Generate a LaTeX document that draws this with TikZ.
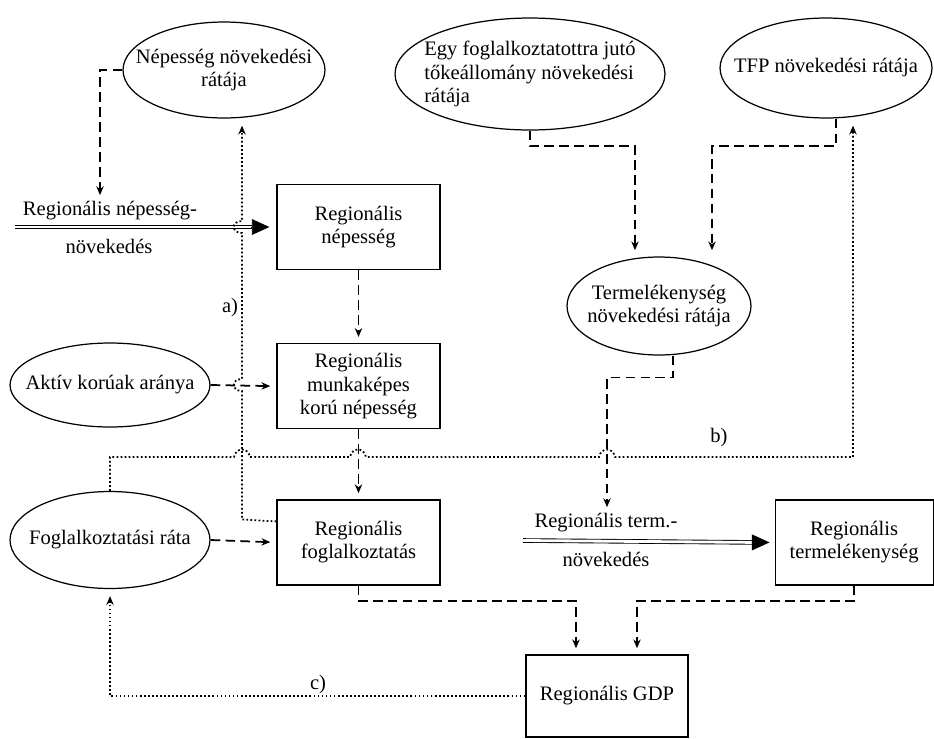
\documentclass[tikz,border=0pt]{standalone}
\usepackage{fontspec}
\setmainfont{Liberation Serif}
\usetikzlibrary{calc, positioning, shapes.geometric, arrows.meta}
\tikzset{
    rate_oval/.style={ellipse, draw=black, line width=0.7pt, inner sep=-1cm, align=center, font=\fontsize{11.7}{13.2}\selectfont},
    region_box/.style={rectangle, draw=black, line width=0.7pt, minimum width=3.26cm, minimum height=1.7cm, align=center, font=\fontsize{11.7}{13.2}\selectfont},
    center_text/.style={inner sep=0pt, align=center, font=\fontsize{11.7}{13.2}\selectfont},
    dashed_arrow/.style={line width=1pt, dash pattern=on 5.5pt off 3pt, -{Stealth[length=5pt,width=4.2pt]}, shorten >=3.5pt},
    dotted_arrow/.style={line width=1pt, dash pattern=on 1pt off 1.3pt, -{Stealth[length=5pt,width=4.2pt]}, shorten >=4pt},
    dbl_line/.style={double, double distance=1.6pt, line width=0.5pt},
    dbl_tip/.style={line width=0.5pt, -{Triangle[length=10pt,width=9pt]}},
}
\begin{document}
\begin{tikzpicture}[x=0.02cm, y=-0.02cm]
    \useasboundingbox (0,0) rectangle (934,738);
    %%%%%%%%%%%%%%%%%
    % RATES (OVALS) %
    %%%%%%%%%%%%%%%%%
    \node (nepnov) [rate_oval, minimum width=4.04cm, minimum height=1.92cm] at (224,70)
        {Népesség növekedési\\rátája};
    \node (toke) [rate_oval, align=left, minimum width=5.4cm, minimum height=2.24cm] at (530,74)
        {Egy foglalkoztatottra jutó\\tőkeállomány növekedési\\rátája};
    \node (tfp) [rate_oval, minimum width=4.24cm, minimum height=2cm] at (826,68)
        {TFP növekedési rátája};
    \node (termnov) [rate_oval, minimum width=3.68cm, minimum height=1.96cm] at (659,306)
        {Termelékenység\\növekedési rátája};
    \node (aktiv) [rate_oval, minimum width=4cm, minimum height=1.68cm] at (110,385)
        {Aktív korúak aránya};
    \node (foglrata) [rate_oval, minimum width=4cm, minimum height=1.94cm] at (110,540)
        {Foglalkoztatási ráta};

    %%%%%%%%%%%%%%%%%%
    % REGIONAL BOXES %
    %%%%%%%%%%%%%%%%%%
    \node (nep) [region_box] at (358.5,227)
        {Regionális\\népesség};
    \node (munka) [region_box, below = 1.46cm of nep]
        {Regionális\\munkaképes\\korú népesség};
    \node (foglal) [region_box, below = 1.4cm of munka]
        {Regionális\\foglalkoztatás};
    \node (termel) [region_box, minimum width=3.16cm, right = 6.68cm of foglal]
        {Regionális\\termelékenység};
    \node (gdp) [region_box, minimum width=3.24cm, minimum height=1.64cm] at (607,696)
        {Regionális GDP};

    % labels
    \node (lbl_nep_top) [center_text] at (110,211) {Regionális népesség-};
    \node (lbl_nep_bot) [center_text] at (109,246) {növekedés};
    \node (lbl_term_top) [center_text] at (606,523) {Regionális term.-};
    \node (lbl_term_bot) [center_text] at (606,559) {növekedés};
    \node (lbl_a) [center_text] at (230,308) {a)};
    \node (lbl_b) [center_text] at (719,438) {b)};
    \node (lbl_c) [center_text] at (318,685) {c)};

    %%%%%%%%%%%%%%%%%%%%
    % GROWTH (DOUBLE)  %
    %%%%%%%%%%%%%%%%%%%%
    \coordinate (dbl_nep_start) at (15,227);
    \coordinate (dbl_term_start) at (523,540.5);
    \draw[dbl_line] (dbl_nep_start) -- ($(nep.west)+(-24,0)$);
    \draw[dbl_tip] ($(nep.west)+(-25,0)$) -- ($(nep.west)+(-7,0)$);
    \draw[dbl_line] (dbl_term_start) -- ($(termel.west)+(-22,0)$);
    \draw[dbl_tip] ($(termel.west)+(-23,0)$) -- ($(termel.west)+(-5,0)$);

    %%%%%%%%%%%%%%%%%%
    % DASHED ARROWS  %
    %%%%%%%%%%%%%%%%%%
    \draw[dashed_arrow] (nepnov.west) -| ($(lbl_nep_top.north)+(-10,0)$);
    \draw[dashed_arrow] (nep.south) -- (munka.north);
    \draw[dashed_arrow] (munka.south) -- (foglal.north);
    \draw[dashed_arrow] (aktiv.east) -- (munka.west);
    \draw[dashed_arrow] (foglrata.east) -- (foglal.west);
    \coordinate (gdp_in_l) at (576,601);
    \coordinate (gdp_in_r) at (637,601);
    \draw[dashed_arrow] (foglal.south) |- (gdp_in_l) -- (gdp_in_l |- gdp.north);
    \draw[dashed_arrow] (termel.south) |- (gdp_in_r) -- (gdp_in_r |- gdp.north);
    \coordinate (tn_in_l) at (635,146);
    \coordinate (tn_in_r) at (712,146);
    \draw[dashed_arrow] (toke.south) |- (tn_in_l) -- (tn_in_l |- termnov.north);
    \draw[dashed_arrow] ($(tfp.south)+(10,0)$) |- (tn_in_r) -- (tn_in_r |- termnov.north);
    \draw[dashed_arrow] ($(termnov.south)+(14,0)$) -- ++(0,22) -| ($(lbl_term_top.north)+(1,0)$);

    %%%%%%%%%%%%%%%%%%
    % DOTTED ARROWS  %
    %%%%%%%%%%%%%%%%%%
    % a)
    \coordinate (a_col) at (242,519.5);
    \draw[dotted_arrow] ($(foglal.west)+(0,-21)$) -- (a_col) -- (242,391)
        .. controls (231,391) and (231,379) .. (242,379) -- (242,233)
        .. controls (231,233) and (231,221) .. (242,221) -- (nepnov.south -| a_col);
    % b)
    \coordinate (b_row) at (853,457);
    \draw[dotted_arrow] (foglrata.north) |- (234,457)
        .. controls (236,447) and (248,447) .. (250,457) -- (350,457)
        .. controls (352,447) and (364,447) .. (366,457) -- (599,457)
        .. controls (601,447) and (613,447) .. (615,457) -- (b_row) -- (tfp.south -| b_row);
    % c)
    \draw[dotted_arrow] (gdp.west) -| (foglrata.south);
\end{tikzpicture}
\end{document}
